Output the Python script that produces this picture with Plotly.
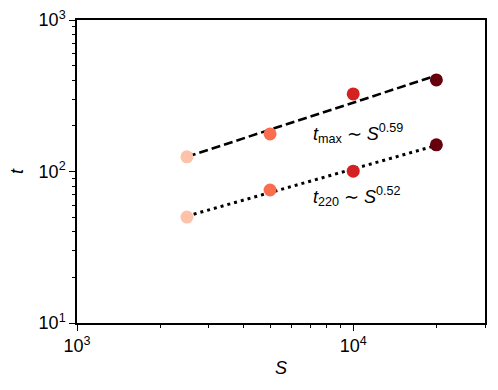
import numpy as np
import plotly.graph_objects as go

S = [2500, 5000, 10000, 20000]
t_max = [125, 177, 325, 402]
t_220 = [50, 75.5, 100.5, 150]
point_colors = ["#fcc3aa", "#fb6d4f", "#d42121", "#67000d"]

x_tickvals = [1000, 10000]
x_ticktext = ["10<sup>3</sup>", "10<sup>4</sup>"]
y_tickvals = [10, 100, 1000]
y_ticktext = ["10<sup>1</sup>", "10<sup>2</sup>", "10<sup>3</sup>"]

logS = np.log10(S)
fig = go.Figure()

def fit_line(vals):
    k, b = np.polyfit(logS, np.log10(vals), 1)
    xs = np.array([S[0], S[-1]], dtype=float)
    return k, xs, 10 ** (k * np.log10(xs) + b)

k1, xs1, ys1 = fit_line(t_max)
k2, xs2, ys2 = fit_line(t_220)

fig.add_trace(go.Scatter(x=xs1, y=ys1, mode="lines",
                         line=dict(color="black", width=2.6, dash="9px,4px"),
                         showlegend=False, hoverinfo="skip"))
fig.add_trace(go.Scatter(x=xs2, y=ys2, mode="lines",
                         line=dict(color="black", width=3, dash="3px,4px"),
                         showlegend=False, hoverinfo="skip"))
for vals in (t_max, t_220):
    fig.add_trace(go.Scatter(x=S, y=vals, mode="markers",
                             marker=dict(color=point_colors, size=13, line=dict(width=0)),
                             showlegend=False))

FAM = "Liberation Sans, Arial, sans-serif"
font = dict(family=FAM, size=18, color="black")

fig.add_annotation(xref="paper", yref="paper", x=0.574, y=0.627, xanchor="left", yanchor="middle",
                   text=f"<i>t</i><sub>max</sub> ∼ <i>S</i><sup>{k1:.2f}</sup>", showarrow=False,
                   font=dict(family=FAM, size=18, color="black"))
fig.add_annotation(xref="paper", yref="paper", x=0.574, y=0.416, xanchor="left", yanchor="middle",
                   text=f"<i>t</i><sub>220</sub> ∼ <i>S</i><sup>{k2:.2f}</sup>", showarrow=False,
                   font=dict(family=FAM, size=18, color="black"))

x_minor = [2000, 3000, 4000, 5000, 6000, 7000, 8000, 9000, 20000, 30000]
y_minor = [20, 30, 40, 50, 60, 70, 80, 90, 200, 300, 400, 500, 600, 700, 800, 900]

fig.update_xaxes(type="log", range=[3, np.log10(30000)], tickvals=x_tickvals, ticktext=x_ticktext,
                 ticks="outside", ticklen=6, tickwidth=1.3, tickcolor="black", automargin=False,
                 minor=dict(tickvals=x_minor, ticks="outside", ticklen=3.5, tickwidth=1, tickcolor="black"),
                 showline=True, linecolor="black", linewidth=1.5, mirror=True, showgrid=False,
                 zeroline=False, tickfont=font,
                 title=dict(text="<i>S</i>", font=dict(family=FAM, size=18), standoff=6))
fig.update_yaxes(type="log", range=[1, 3], tickvals=y_tickvals, ticktext=y_ticktext,
                 ticks="outside", ticklen=6, tickwidth=1.3, tickcolor="black", automargin=False,
                 minor=dict(tickvals=y_minor, ticks="outside", ticklen=3.5, tickwidth=1, tickcolor="black"),
                 showline=True, linecolor="black", linewidth=1.5, mirror=True, showgrid=False,
                 zeroline=False, tickfont=font,
                 title=dict(text="<i>t</i>", font=dict(family=FAM, size=18), standoff=10))

fig.update_layout(width=498, height=390, margin=dict(l=77, r=13, t=20, b=67),
                  plot_bgcolor="white", paper_bgcolor="white", font=font)

fig.write_html("out.html", config={"displayModeBar": False},
               post_script="document.body.style.margin='0';document.body.style.overflow='hidden';")
